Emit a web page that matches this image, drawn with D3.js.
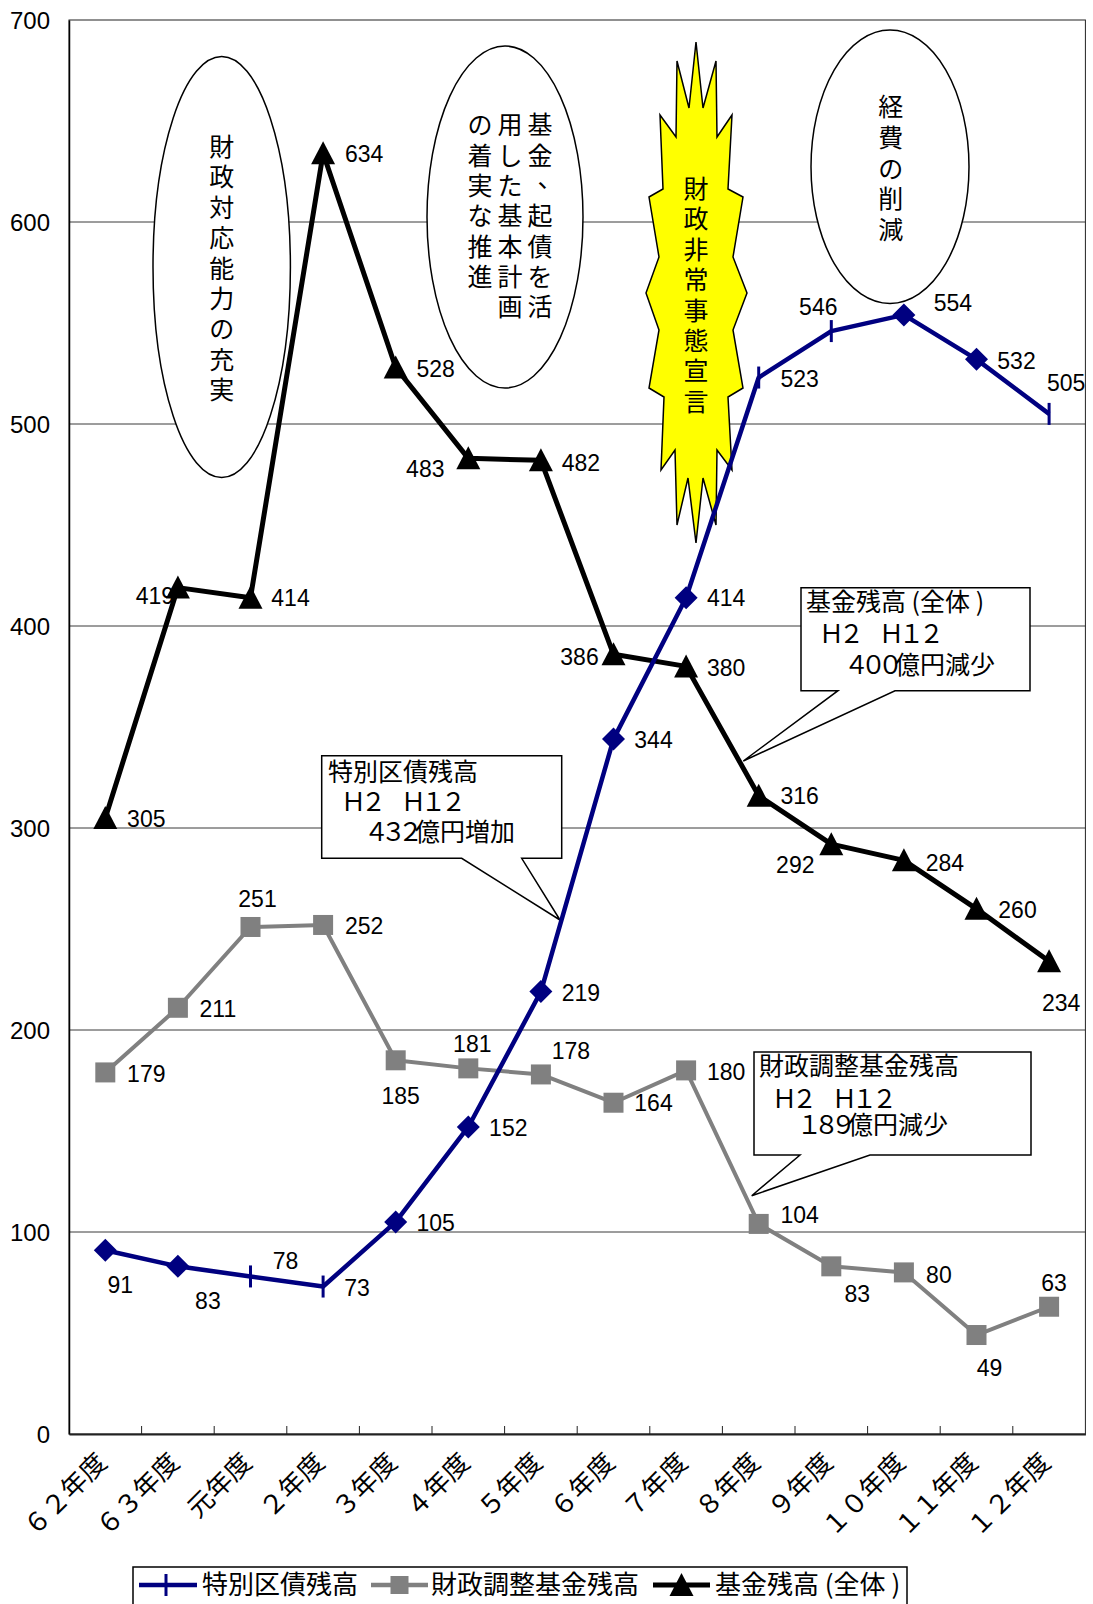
<!DOCTYPE html>
<html>
<head>
<meta charset="utf-8">
<script src="https://cdn.jsdelivr.net/npm/d3@7"></script>
<style>
  body { margin: 0; background: #fff; }
  svg { display: block; }
</style>
</head>
<body>
<svg id="chart" width="1093" height="1604"></svg>
<script>
// ---- data ----
const categories = ["６２年度", "６３年度", "元年度", "２年度", "３年度", "４年度", "５年度",
                    "６年度", "７年度", "８年度", "９年度", "１０年度", "１１年度", "１２年度"];
const bondBalance    = [91, 83, 78, 73, 105, 152, 219, 344, 414, 523, 546, 554, 532, 505];   // 特別区債残高
const adjustmentFund = [179, 211, 251, 252, 185, 181, 178, 164, 180, 104, 83, 80, 49, 63];   // 財政調整基金残高
const totalFund      = [305, 419, 414, 634, 528, 483, 482, 386, 380, 316, 292, 284, 260, 234]; // 基金残高(全体)
const yTicks = [0, 100, 200, 300, 400, 500, 600, 700];
const seriesNames = ["特別区債残高", "財政調整基金残高", "基金残高 (全体 )"];

// marker shape used at each point of the bond series
const bondMarkers = ["d", "d", "t", "t", "d", "d", "d", "d", "d", "t", "t", "d", "d", "t"];

// value-label offsets [dx, dy] from each point (label centre)
const bondLabelOff = [[15,35],[30,34],[35,-16],[34,1],[40,1],[40,1],[40,1],[40,1],[40,0],[41,1],[-13,-24],[49,-12],[40,1],[17,-31]];
const adjLabelOff  = [[41,1],[40,1],[7,-28],[41,1],[5,35],[4,-25],[30,-24],[40,0],[40,1],[41,-9],[26,27],[35,2],[13,33],[5,-24]];
const totLabelOff  = [[41,1],[-23,8],[40,0],[41,0],[40,1],[-43,10],[40,2],[-34,2],[40,1],[41,0],[-36,21],[41,2],[41,1],[12,41]];

// ---- layout ----
const plot = { left: 69, right: 1085.4, top: 20, bottom: 1434 };
const NUM_FONT = "'Liberation Sans', Arial, sans-serif";
const JP_FONT = "'Noto Sans CJK JP', 'Noto Sans CJK SC', sans-serif";
const NAVY = "#000080", GRAY = "#808080";

const svg = d3.select("#chart");
svg.append("rect").attr("width", 1093).attr("height", 1604).attr("fill", "#fff");

const x = d3.scaleBand().domain(categories).range([plot.left, plot.right]).paddingInner(0).paddingOuter(0);
const xc = c => x(c) + x.bandwidth() / 2;
const y = d3.scaleLinear().domain([0, 700]).range([plot.bottom, plot.top]);

// gridlines
svg.append("g").selectAll("line")
  .data(yTicks.filter(v => v > 0 && v < 700))
  .join("line")
  .attr("x1", plot.left).attr("x2", plot.right)
  .attr("y1", d => y(d)).attr("y2", d => y(d))
  .attr("stroke", "#3a3a3a").attr("stroke-width", 1);

// plot frame
svg.append("rect")
  .attr("x", plot.left).attr("y", plot.top)
  .attr("width", plot.right - plot.left).attr("height", plot.bottom - plot.top)
  .attr("fill", "none").attr("stroke", "#222").attr("stroke-width", 1);

// ---- annotation shapes ----
const notes = svg.append("g");

function verticalText(g, str, cx, firstCy, pitch, size) {
  [...str].forEach((ch, i) => {
    const t = g.append("text")
      .attr("x", cx).attr("y", firstCy + i * pitch)
      .attr("text-anchor", "middle").attr("dominant-baseline", "central")
      .attr("font-family", JP_FONT).attr("font-size", size).attr("fill", "#000")
      .text(ch);
    if (ch === "、") t.attr("dx", size * 0.4).attr("dy", -size * 0.32);
  });
}

function ellipse(cx, cy, rx, ry) {
  notes.append("ellipse").attr("cx", cx).attr("cy", cy).attr("rx", rx).attr("ry", ry)
    .attr("fill", "#fff").attr("stroke", "#000").attr("stroke-width", 1.5);
}

ellipse(221.7, 267, 68.7, 210.5);
verticalText(notes, "財政対応能力の充実", 221.7, 145, 30.4, 25);

ellipse(505, 217, 78, 171);
verticalText(notes, "基金、起債を活", 540, 123.3, 30.3, 25);
verticalText(notes, "用した基本計画", 510, 123.3, 30.3, 25);
verticalText(notes, "の着実な推進", 480, 123.3, 30.3, 25);

// starburst
const burst = [[696,42],[703,108],[716,61],[717,137],[732,115],[728,189],[743,197],[733,257],
  [747,293],[733,330],[743,388],[728,397],[732,470],[717,450],[716,525],[703,478],[696,543],
  [688,478],[677,525],[675,450],[661,470],[664,397],[649,388],[659,330],[646,293],[659,257],
  [649,197],[663,189],[660,115],[676,137],[677,61],[689,108]];
notes.append("path").attr("d", d3.line()(burst) + "Z")
  .attr("fill", "#ffff00").attr("stroke", "#000").attr("stroke-width", 1.5).attr("stroke-linejoin", "miter");
verticalText(notes, "財政非常事態宣言", 696, 187, 30.4, 25);

ellipse(890, 166.7, 79, 136.7);
verticalText(notes, "経費の削減", 890.7, 105, 30.8, 25);

// callout boxes
function callout(box, base, tip, lines) {
  const [x0, y0, x1, y1] = box;
  const p = d3.path();
  p.moveTo(x0, y0); p.lineTo(x1, y0); p.lineTo(x1, y1);
  p.lineTo(base[1], y1); p.lineTo(tip[0], tip[1]); p.lineTo(base[0], y1);
  p.lineTo(x0, y1); p.closePath();
  notes.append("path").attr("d", p.toString())
    .attr("fill", "#fff").attr("stroke", "#000").attr("stroke-width", 1.5);
  lines.forEach(l => {
    const t = notes.append("text").attr("x", l.x).attr("y", l.y)
      .attr("font-family", JP_FONT).attr("fill", "#000");
    l.parts.forEach(pt => {
      const s = t.append("tspan").attr("font-size", pt.size).text(pt.text);
      if (pt.ls) s.attr("letter-spacing", pt.ls);
    });
  });
}

callout([321.7, 755.7, 561.7, 858.3], [461.7, 521.7], [560, 920], [
  { x: 328, y: 781, parts: [{ text: "特別区債残高", size: 25 }] },
  { x: 341, y: 811, parts: [{ text: "Ｈ２　Ｈ１２", size: 25, ls: -5 }] },
  { x: 364, y: 841, parts: [{ text: "４３２", size: 25, ls: -8 }, { text: "億円増加", size: 25 }] }
]);

callout([801, 587.7, 1030, 690.7], [838, 895], [743.3, 761], [
  { x: 806, y: 611, parts: [{ text: "基金残高 (全体 )", size: 25 }] },
  { x: 819, y: 643, parts: [{ text: "Ｈ２　Ｈ１２", size: 25, ls: -5 }] },
  { x: 844, y: 674, parts: [{ text: "４００", size: 25, ls: -8 }, { text: "億円減少", size: 25 }] }
]);

callout([754, 1052, 1031, 1155], [800, 870], [751.7, 1195.7], [
  { x: 759, y: 1075, parts: [{ text: "財政調整基金残高", size: 25 }] },
  { x: 772, y: 1108, parts: [{ text: "Ｈ２　Ｈ１２", size: 25, ls: -5 }] },
  { x: 797, y: 1134, parts: [{ text: "１８９", size: 25, ls: -8 }, { text: "億円減少", size: 25 }] }
]);

// ---- axes ----
const yAxis = svg.append("g").attr("transform", `translate(${plot.left},0)`)
  .call(d3.axisLeft(y).tickValues(yTicks).tickSize(0).tickPadding(19));
yAxis.select(".domain").attr("stroke", "#000").attr("stroke-width", 1.5);
yAxis.selectAll("text").attr("font-family", NUM_FONT).attr("font-size", 24).attr("fill", "#000")
  .attr("dy", "0.36em");

const xAxis = svg.append("g").attr("transform", `translate(0,${plot.bottom})`)
  .call(d3.axisBottom(x).tickSize(0).tickFormat(""));
xAxis.select(".domain").attr("stroke", "#222").attr("stroke-width", 2);
xAxis.selectAll(".tick text").remove();

// inward tick marks at category boundaries
svg.append("g").selectAll("line")
  .data(categories.slice(1))
  .join("line")
  .attr("x1", d => x(d)).attr("x2", d => x(d))
  .attr("y1", plot.bottom).attr("y2", plot.bottom - 8)
  .attr("stroke", "#222").attr("stroke-width", 1);

// rotated category labels
svg.append("g").selectAll("text")
  .data(categories)
  .join("text")
  .attr("transform", d => `translate(${xc(d) + 3},${plot.bottom + 30}) rotate(-45)`)
  .attr("text-anchor", "end")
  .attr("font-family", JP_FONT).attr("font-size", 26).attr("fill", "#000")
  .text(d => d);

// ---- series ----
const seriesG = svg.append("g");
const line = d3.line().x((d, i) => xc(categories[i])).y(d => y(d));

seriesG.append("path").datum(adjustmentFund).attr("d", line)
  .attr("fill", "none").attr("stroke", GRAY).attr("stroke-width", 4).attr("stroke-linejoin", "round");
seriesG.append("path").datum(totalFund).attr("d", line)
  .attr("fill", "none").attr("stroke", "#000").attr("stroke-width", 5).attr("stroke-linejoin", "round");
seriesG.append("path").datum(bondBalance).attr("d", line)
  .attr("fill", "none").attr("stroke", NAVY).attr("stroke-width", 4.5).attr("stroke-linejoin", "round");

const diamondPath = "M0,-11.5L11.5,0L0,11.5L-11.5,0Z";
const trianglePath = "M0,-12L12,11L-12,11Z";

// squares
seriesG.append("g").selectAll("rect")
  .data(adjustmentFund)
  .join("rect")
  .attr("x", (d, i) => xc(categories[i]) - 10).attr("y", d => y(d) - 10)
  .attr("width", 20).attr("height", 20).attr("fill", GRAY);

// triangles
seriesG.append("g").selectAll("path")
  .data(totalFund)
  .join("path")
  .attr("transform", (d, i) => `translate(${xc(categories[i])},${y(d)})`)
  .attr("d", trianglePath).attr("fill", "#000");

// bond markers: diamonds and vertical ticks
const bm = seriesG.append("g").selectAll("g")
  .data(bondBalance.map((v, i) => ({ v, i, m: bondMarkers[i] })))
  .join("g")
  .attr("transform", d => `translate(${xc(categories[d.i])},${y(d.v)})`);
bm.filter(d => d.m === "d").append("path").attr("d", diamondPath).attr("fill", NAVY);
bm.filter(d => d.m === "t").append("line")
  .attr("y1", -11).attr("y2", 11).attr("stroke", NAVY).attr("stroke-width", 3);

// value labels
function valueLabels(values, offs) {
  svg.append("g").selectAll("text")
    .data(values)
    .join("text")
    .attr("x", (d, i) => xc(categories[i]) + offs[i][0])
    .attr("y", (d, i) => y(d) + offs[i][1])
    .attr("dy", "0.36em")
    .attr("text-anchor", "middle")
    .attr("font-family", NUM_FONT).attr("font-size", 23).attr("fill", "#000")
    .text(d => d);
}
valueLabels(bondBalance, bondLabelOff);
valueLabels(adjustmentFund, adjLabelOff);
valueLabels(totalFund, totLabelOff);

// ---- legend ----
const lg = svg.append("g");
lg.append("rect").attr("x", 133).attr("y", 1567).attr("width", 774).attr("height", 50)
  .attr("fill", "#fff").attr("stroke", "#000").attr("stroke-width", 1.5);
const legendY = 1585;
const legendItems = [
  { name: seriesNames[0], x0: 139, x1: 197, color: NAVY, mark: "tick", tx: 202 },
  { name: seriesNames[1], x0: 371, x1: 428, color: GRAY, mark: "square", tx: 431 },
  { name: seriesNames[2], x0: 653, x1: 710, color: "#000", mark: "triangle", tx: 715 }
];
legendItems.forEach(it => {
  lg.append("line").attr("x1", it.x0).attr("x2", it.x1).attr("y1", legendY).attr("y2", legendY)
    .attr("stroke", it.color).attr("stroke-width", it.mark === "triangle" ? 5 : 4.5);
  const mx = (it.x0 + it.x1) / 2;
  if (it.mark === "tick") {
    lg.append("line").attr("x1", mx - 2).attr("x2", mx - 2).attr("y1", legendY - 11).attr("y2", legendY + 11)
      .attr("stroke", it.color).attr("stroke-width", 3);
  } else if (it.mark === "square") {
    lg.append("rect").attr("x", mx - 9).attr("y", legendY - 9).attr("width", 18).attr("height", 18).attr("fill", it.color);
  } else {
    lg.append("path").attr("transform", `translate(${mx},${legendY})`).attr("d", trianglePath).attr("fill", it.color);
  }
  lg.append("text").attr("x", it.tx).attr("y", legendY).attr("dy", "0.36em")
    .attr("font-family", JP_FONT).attr("font-size", 26).attr("fill", "#000").text(it.name);
});
</script>
</body>
</html>
